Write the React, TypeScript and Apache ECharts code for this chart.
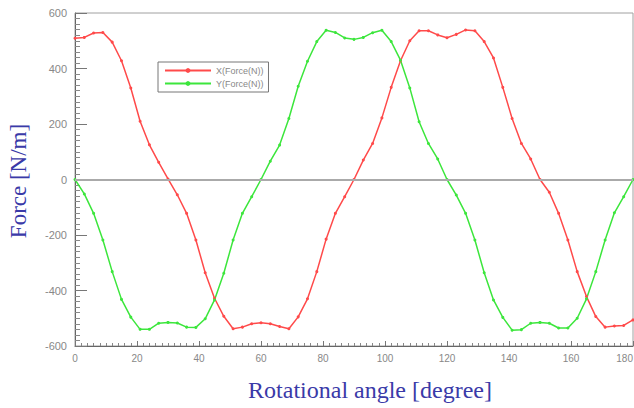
import React, { useEffect, useRef } from "react";
import * as echarts from "echarts";

const angles: number[] = [
  0, 3, 6, 9, 12, 15, 18, 21, 24, 27, 30, 33, 36, 39, 42, 45, 48, 51, 54, 57, 60,
  63, 66, 69, 72, 75, 78, 81, 84, 87, 90, 93, 96, 99, 102, 105, 108, 111, 114, 117, 120,
  123, 126, 129, 132, 135, 138, 141, 144, 147, 150, 153, 156, 159, 162, 165, 168, 171, 174, 177, 180,
];

const xForce: number[] = [
  509, 512, 528, 530, 495, 428, 330, 210, 125, 62, 2, -55, -122, -218, -336, -428, -493, -538, -532, -520, -516,
  -520, -530, -538, -495, -430, -332, -215, -122, -62, 0, 70, 130, 222, 332, 428, 500, 536, 536, 521, 511,
  523, 539, 536, 497, 438, 332, 220, 130, 74, 0, -46, -122, -218, -332, -422, -494, -532, -528, -526, -506,
];

const yForce: number[] = [
  0, -52, -122, -218, -332, -432, -496, -540, -540, -518, -515, -517, -532, -533, -502, -434, -338, -218, -122, -62, 0,
  66, 124, 220, 336, 426, 497, 538, 530, 510, 505, 512, 529, 538, 497, 430, 330, 208, 130, 74, 0,
  -56, -122, -218, -336, -434, -497, -543, -541, -518, -515, -518, -535, -535, -500, -430, -332, -218, -120, -62, 0,
];

const seriesNames = ["X(Force(N))", "Y(Force(N))"];
const xTitle = "Rotational angle [degree]";
const yTitle = "Force [N/m]";

export default function App() {
  const ref = useRef<HTMLDivElement>(null);
  useEffect(() => {
    if (!ref.current) return;
    const chart = echarts.init(ref.current, undefined, { renderer: "svg" });
    const mk = (vals: number[]) => angles.map((a, i) => [a, vals[i]]);
    chart.setOption({
      animation: false,
      backgroundColor: "#ffffff",
      grid: {
        left: 75,
        right: 1,
        top: 13,
        bottom: 62,
        show: true,
        borderColor: "#a0a0a0",
        borderWidth: 1,
        containLabel: false,
        outerBoundsMode: "none",
      },
      legend: {
        orient: "vertical",
        left: 158,
        top: 62,
        borderColor: "#777777",
        borderWidth: 1,
        padding: [4, 5, 4, 6],
        itemGap: 4,
        itemWidth: 46,
        itemHeight: 6,
        textStyle: { fontSize: 9, color: "#888888", fontFamily: "Arial, Liberation Sans, sans-serif" },
        data: seriesNames,
      },
      xAxis: {
        type: "value",
        min: 0,
        max: 180,
        interval: 20,
        axisLine: { onZero: false, lineStyle: { color: "#666666", width: 1 } },
        axisTick: { inside: true, length: 5, lineStyle: { color: "#777777" } },
        minorTick: { show: true, splitNumber: 10, length: 3, lineStyle: { color: "#888888" } },
        splitLine: { show: false },
        axisLabel: {
          margin: 7,
          fontSize: 10,
          color: "#888888",
          fontFamily: "Arial, Liberation Sans, sans-serif",
          alignMaxLabel: "right",
        },
      },
      yAxis: {
        type: "value",
        min: -600,
        max: 600,
        interval: 200,
        axisLine: { show: true, lineStyle: { color: "#666666", width: 1 } },
        axisTick: { show: true, inside: true, length: 12, lineStyle: { color: "#777777" } },
        minorTick: { show: true, splitNumber: 10, length: 5, lineStyle: { color: "#888888" } },
        splitLine: { show: false },
        axisLabel: {
          margin: 8,
          fontSize: 11,
          color: "#888888",
          fontFamily: "Arial, Liberation Sans, sans-serif",
        },
      },
      graphic: [
        {
          type: "text",
          x: 18,
          y: 181,
          rotation: Math.PI / 2,
          style: {
            text: yTitle,
            fill: "#3a3aa8",
            font: "23px 'Liberation Serif', 'DejaVu Serif', serif",
            align: "center",
            verticalAlign: "middle",
          },
        },
        {
          type: "text",
          x: 370,
          y: 390,
          style: {
            text: xTitle,
            fill: "#3a3aa8",
            font: "24px 'Liberation Serif', 'DejaVu Serif', serif",
            align: "center",
            verticalAlign: "middle",
          },
        },
      ],
      series: [
        {
          name: seriesNames[0],
          type: "line",
          data: mk(xForce),
          symbol: "circle",
          symbolSize: 3,
          lineStyle: { color: "#ff4a4a", width: 1.5 },
          itemStyle: { color: "#ff4a4a" },
          markLine: {
            silent: true,
            symbol: "none",
            label: { show: false },
            lineStyle: { color: "#aaaaaa", width: 2, type: "solid" },
            data: [{ yAxis: 0 }],
          },
          z: 3,
        },
        {
          name: seriesNames[1],
          type: "line",
          data: mk(yForce),
          symbol: "circle",
          symbolSize: 3,
          lineStyle: { color: "#3ce63c", width: 1.5 },
          itemStyle: { color: "#3ce63c" },
          z: 3,
        },
      ],
    });
    return () => chart.dispose();
  }, []);
  return (
    <div
      ref={ref}
      style={{ position: "fixed", left: 0, top: 0, width: 634, height: 408, background: "#fff" }}
    />
  );
}
